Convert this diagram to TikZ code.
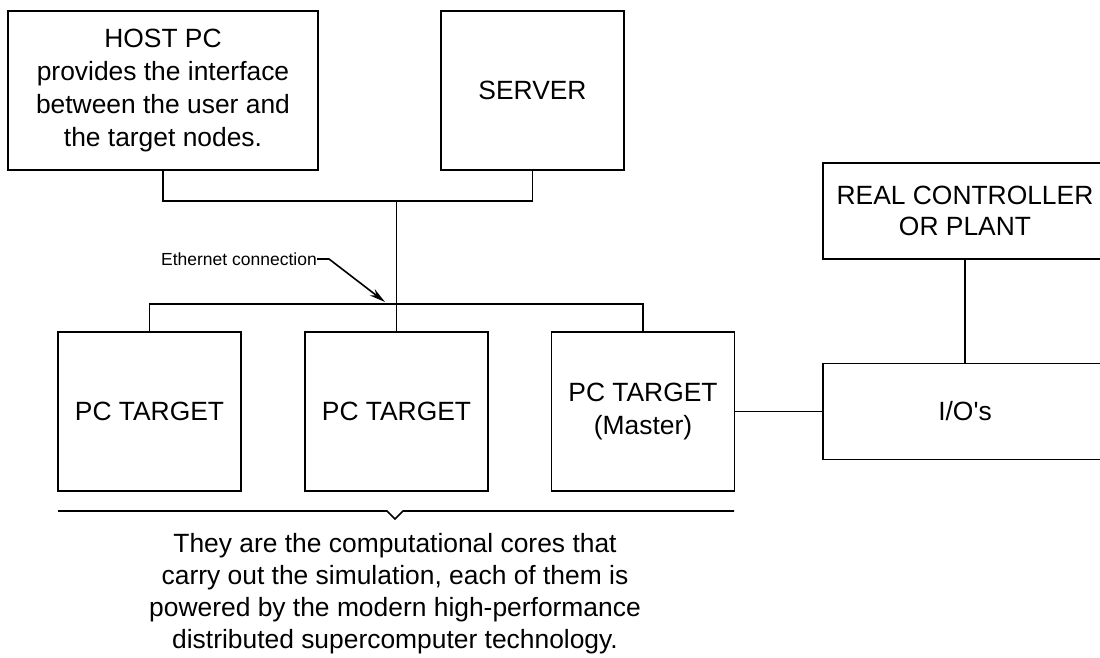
\documentclass[tikz,border=0pt]{standalone}
\usepackage{fontspec}
\setmainfont{Liberation Sans}
\newfontfamily\plainfont{Liberation Sans}
\usetikzlibrary{arrows.meta}
\newcommand\boxfont{\fontsize{26.4}{33}\selectfont}
\newcommand\smallfont{\fontsize{17.5}{20}\selectfont}
\tikzset{
  unit/.style={draw, line width=1.6pt, align=center, inner sep=0pt, font=\boxfont},
  target/.style={unit, minimum width=183pt, minimum height=159pt},
  wide/.style={unit, minimum width=284pt, minimum height=96pt},
  wire/.style={line width=1.6pt},
  note/.style={align=center, inner sep=0pt}
}
\begin{document}
\begin{tikzpicture}[x=1pt, y=-1pt]
  \useasboundingbox (0,0) rectangle (1100,657);
  \node[unit, minimum width=310pt, minimum height=159pt] (host) at (163,90.5)
    {HOST PC\\provides the interface\\between the user and\\the target nodes.};
  \node[target] (server) at (532.5,90.5) {SERVER};
  \node[target] (pc1) at (149.5,411.5) {PC TARGET};
  \node[target] (pc2) at (396.5,411.5) {PC TARGET};
  \node[target] (master) at (643,411.5) {PC TARGET\\(Master)};
  \node[wide] (plant) at (965,211) {REAL CONTROLLER\\[-2pt]OR PLANT};
  \node[wide] (io) at (965,411.5) {{\plainfont I/O's}};
  \coordinate (hub) at (396.5,201);
  \coordinate (bus) at (396.5,304);
  \draw[wire] (host.south) |- (hub) -| (server.south);
  \draw[wire] (hub) -- (pc2.north);
  \draw[wire] (pc1.north) |- (bus) -| (master.north);
  \draw[wire] (master.east) -- (io.west);
  \draw[wire] (plant.south) -- (io.north);

  \node[note, font=\smallfont] (eth) at (239,259) {Ethernet connection};
  \coordinate (ethtip) at (385,302);
  \draw[wire, -{Stealth[length=16pt, width=8pt]}] (eth.east) -- ++(12,0) -- (ethtip);

  \coordinate (bl) at (58,511);
  \coordinate (br) at (734,511);
  \coordinate (bt) at (395,519);
  \draw[wire] (bl) -- ([xshift=-8pt]bt |- bl) -- (bt) -- ([xshift=8pt]bt |- bl) -- (br);
  \node[note, font=\fontsize{26.4}{32}\selectfont] (cores) at (395,594)
    {They are the computational cores that\\carry out the simulation, each of them is\\powered by the modern high-performance\\distributed supercomputer technology.};
\end{tikzpicture}
\end{document}
